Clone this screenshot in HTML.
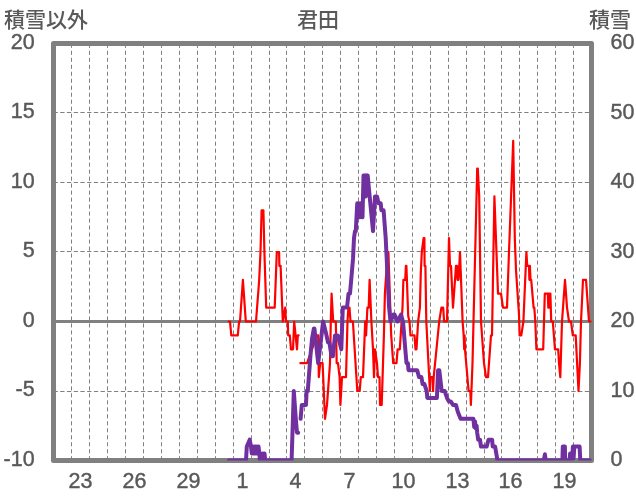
<!DOCTYPE html>
<html><head><meta charset="utf-8"><title>君田</title>
<style>html,body{margin:0;padding:0;background:#fff;overflow:hidden}svg{display:block;will-change:transform}</style>
</head><body>
<svg width="636" height="501" viewBox="0 0 636 501">
<path d="M71.5 460.3V46 M89.5 460.3V46 M107.5 460.3V46 M125.5 460.3V46 M143.5 460.3V46 M161.5 460.3V46 M179.5 460.3V46 M197.5 460.3V46 M215.5 460.3V46 M233.5 460.3V46 M251.5 460.3V46 M269.5 460.3V46 M286.5 460.3V46 M304.5 460.3V46 M322.5 460.3V46 M340.5 460.3V46 M358.5 460.3V46 M376.5 460.3V46 M394.5 460.3V46 M412.5 460.3V46 M430.5 460.3V46 M448.5 460.3V46 M466.5 460.3V46 M484.5 460.3V46 M501.5 460.3V46 M519.5 460.3V46 M537.5 460.3V46 M555.5 460.3V46 M573.5 460.3V46" stroke="#808080" stroke-width="1" stroke-dasharray="4.1 2.89" fill="none"/>
<path d="M53.5 112.5H589 M53.5 182.5H589 M53.5 251.5H589 M53.5 391.5H589" stroke="#808080" stroke-width="1" stroke-dasharray="4.3 2.425" fill="none"/>
<path d="M53.5 321.5H591.5" stroke="#808080" stroke-width="3" fill="none"/>
<rect x="53.5" y="43.5" width="538.00" height="417.00" fill="none" stroke="#808080" stroke-width="5" stroke-linejoin="round"/>
<defs><clipPath id="pa"><rect x="53.5" y="43.5" width="538.00" height="417.00"/></clipPath></defs>
<g clip-path="url(#pa)" fill="none" stroke-linejoin="round" stroke-linecap="round">
<path d="M228.70 321.50 L230.00 321.50 L231.30 335.40 L237.80 335.40 L239.10 321.50 L240.00 321.50 L242.90 279.80 L245.80 321.50 L256.00 321.50 L259.20 279.80 L260.50 252.00 L261.60 210.30 L263.40 210.30 L264.40 252.00 L266.20 307.60 L274.70 307.60 L276.80 252.00 L279.10 252.00 L279.40 265.90 L280.60 265.90 L282.80 321.50 L285.20 307.60 L286.00 321.50 L287.80 321.50 L288.20 335.40 L289.80 335.40 L291.00 349.30 L293.00 349.30 L294.20 321.50 L297.00 349.30 L297.80 335.40 L298.60 335.40 M300.40 363.20 L307.00 363.20 L312.00 349.30 L316.50 335.40 L318.20 335.40 L318.80 377.10 L320.20 363.20 L322.60 363.20 L325.00 418.80 L327.00 404.90 L330.00 363.20 L330.80 321.50 L331.60 293.70 L333.20 321.50 L334.60 321.50 L335.80 321.50 L336.70 363.20 L338.00 363.20 L339.60 377.10 L340.40 404.90 L342.00 377.10 L346.00 377.10 L347.50 321.50 L348.40 307.60 L349.50 307.60 L350.50 321.50 L352.90 321.50 L357.30 391.00 L359.70 391.00 L360.80 377.10 L363.00 377.10 L365.20 321.50 L366.10 335.40 L367.40 307.60 L368.70 307.60 L369.60 279.80 L371.40 321.50 L373.00 349.30 L374.00 377.10 L375.00 349.30 L377.00 363.20 L378.00 377.10 L379.50 377.10 L380.00 404.90 L381.70 404.90 L383.90 335.40 L384.90 293.70 L387.60 252.00 L388.40 252.00 L391.20 335.40 L393.20 363.20 L396.50 363.20 L397.60 349.30 L399.80 349.30 L402.50 307.60 L403.40 279.80 L405.20 279.80 L405.90 265.90 L406.40 265.90 L408.20 315.94 L409.50 321.50 L410.50 335.40 L414.50 335.40 L415.50 349.30 L416.50 349.30 L418.10 321.50 L419.90 307.60 L420.80 272.85 L421.80 252.00 L423.60 238.10 L424.40 238.10 L424.60 265.90 L425.40 265.90 L426.30 321.50 L429.90 391.00 L430.40 377.10 L432.60 377.10 L433.10 391.00 L433.70 377.10 L439.20 321.50 L441.40 307.60 L443.20 307.60 L444.10 321.50 L447.00 321.50 L449.00 238.10 L450.00 265.90 L451.00 265.90 L453.00 307.60 L455.00 279.80 L456.00 265.90 L457.00 265.90 L457.50 279.80 L458.50 279.80 L460.00 252.00 L462.60 321.50 L463.70 335.40 L464.20 349.30 L464.60 335.40 L465.00 349.30 L468.60 391.00 L470.30 391.00 L470.90 404.90 L472.50 363.20 L477.20 168.60 L477.80 168.60 L479.20 196.40 L481.00 321.50 L484.00 363.20 L486.00 377.10 L488.00 377.10 L491.00 335.40 L492.00 335.40 L494.40 196.40 L498.00 293.70 L501.00 293.70 L503.00 307.60 L507.00 307.60 L509.00 252.00 L513.20 140.80 L514.80 238.10 L516.00 270.07 L519.00 314.55 L519.60 335.40 L521.30 335.40 L523.40 321.50 L526.40 252.00 L527.20 265.90 L529.00 265.90 L529.40 279.80 L529.90 265.90 L530.50 279.80 L531.20 279.80 L533.60 307.60 L534.30 307.60 L535.30 321.50 L536.40 349.30 L543.20 349.30 L544.80 293.70 L547.80 293.70 L548.30 307.60 L548.80 293.70 L549.30 307.60 L549.80 293.70 L550.40 293.70 L551.20 321.50 L552.80 321.50 L555.00 349.30 L558.20 349.30 L559.00 363.20 L560.30 377.10 L562.00 321.50 L563.00 307.60 L565.00 279.80 L566.00 293.70 L567.00 307.60 L569.00 321.50 L571.00 321.50 L572.80 335.40 L575.70 335.40 L577.10 363.20 L578.50 391.00 L579.90 363.20 L581.00 321.50 L583.00 279.80 L586.00 279.80 L587.00 293.70 L588.00 307.60 L589.00 321.50 L592.00 321.50" stroke="#ff0000" stroke-width="2.2"/>
<path d="M228.90 460.50 L246.00 460.50 L246.80 446.60 L249.70 439.65 L251.00 446.60 L251.75 453.55 L252.50 446.60 L253.25 453.55 L254.00 446.60 L254.75 453.55 L255.50 446.60 L256.25 453.55 L257.00 446.60 L257.75 453.55 L258.50 446.60 L259.30 453.55 L260.00 460.50 L260.75 453.55 L261.50 460.50 L262.25 453.55 L263.00 460.50 L263.75 453.55 L264.50 453.55 L265.20 460.50 L291.60 460.50 L293.80 391.00 L295.80 418.80 L297.00 432.70 L298.20 432.70 M300.60 418.80 L301.80 404.90 L303.60 404.90 L306.00 404.90 L306.60 391.00 L307.80 391.00 L310.40 356.25 L312.00 338.88 L313.90 328.45 L314.40 328.45 L318.20 363.20 L323.10 321.50 L325.90 332.62 L328.00 342.35 L329.40 342.35 L331.50 356.25 L332.90 356.25 L335.00 335.40 L337.80 335.40 L341.30 349.30 L342.80 307.60 L347.00 307.60 L348.50 293.70 L350.00 293.70 L351.50 276.32 L353.00 258.95 L354.00 238.10 L355.00 231.15 L355.80 231.15 L356.50 217.25 L357.25 203.35 L358.00 217.25 L358.75 203.35 L359.50 217.25 L360.25 203.35 L361.00 217.25 L361.75 203.35 L362.50 217.25 L363.50 175.55 L364.20 196.40 L365.00 175.55 L365.70 196.40 L366.40 175.55 L367.10 189.45 L367.70 175.55 L369.00 189.45 L373.00 231.15 L375.00 196.40 L377.00 196.40 L378.60 203.35 L380.70 203.35 L381.40 210.30 L383.60 210.30 L385.70 238.10 L389.10 307.60 L390.50 321.50 L393.50 314.55 L394.50 314.55 L397.50 321.50 L401.00 314.55 L403.00 321.50 L405.30 349.30 L406.50 363.20 L407.90 363.20 L408.50 370.15 L417.20 370.15 L419.00 377.10 L421.40 377.10 L422.60 384.05 L424.40 384.05 L426.70 391.00 L427.30 397.95 L436.90 397.95 L438.10 370.15 L439.30 370.15 L441.70 391.00 L444.70 391.00 L447.00 397.95 L448.90 401.43 L450.70 401.43 L453.00 404.90 L456.00 404.90 L457.80 411.85 L460.60 418.80 L473.40 418.80 L474.20 427.14 L475.00 421.58 L475.80 428.53 L476.60 425.75 L477.20 432.70 L478.20 439.65 L480.00 439.65 L481.00 446.60 L486.70 446.60 L488.50 439.65 L492.10 439.65 L492.70 446.60 L495.10 446.60 L496.30 453.55 L497.50 460.50 L543.80 460.50 L544.90 454.25 L545.80 460.50 L562.40 460.50 L562.80 446.60 L564.90 446.60 L565.10 460.50 L569.60 460.50 L570.10 453.55 L570.80 460.50 L571.50 453.55 L572.20 459.11 L572.90 446.60 L573.60 458.42 L574.30 446.60 L579.60 446.60 L580.30 460.50 L592.00 460.50" stroke="#7030a0" stroke-width="4"/>
</g>
<g font-family='"Liberation Sans", "Noto Sans CJK JP", sans-serif' font-size="100" fill="#595959" stroke="#595959" stroke-width="2"><text transform="translate(34.6 48.5) scale(0.2148 0.2170)" text-anchor="end">20</text><text transform="translate(34.6 118.0) scale(0.2148 0.2170)" text-anchor="end">15</text><text transform="translate(34.6 187.5) scale(0.2148 0.2170)" text-anchor="end">10</text><text transform="translate(34.6 257.0) scale(0.2148 0.2170)" text-anchor="end">5</text><text transform="translate(34.6 326.5) scale(0.2148 0.2170)" text-anchor="end">0</text><text transform="translate(34.6 396.0) scale(0.2148 0.2170)" text-anchor="end">-5</text><text transform="translate(34.6 465.5) scale(0.2148 0.2170)" text-anchor="end">-10</text><text transform="translate(610.6 49.0) scale(0.2148 0.2170)">60</text><text transform="translate(610.6 118.5) scale(0.2148 0.2170)">50</text><text transform="translate(610.6 188.0) scale(0.2148 0.2170)">40</text><text transform="translate(610.6 257.5) scale(0.2148 0.2170)">30</text><text transform="translate(610.6 327.0) scale(0.2148 0.2170)">20</text><text transform="translate(610.6 396.5) scale(0.2148 0.2170)">10</text><text transform="translate(610.6 466.0) scale(0.2148 0.2170)">0</text><text transform="translate(80.50 488.2) scale(0.2148 0.2170)" text-anchor="middle">23</text><text transform="translate(134.50 488.2) scale(0.2148 0.2170)" text-anchor="middle">26</text><text transform="translate(188.50 488.2) scale(0.2148 0.2170)" text-anchor="middle">29</text><text transform="translate(242.50 488.2) scale(0.2148 0.2170)" text-anchor="middle">1</text><text transform="translate(295.50 488.2) scale(0.2148 0.2170)" text-anchor="middle">4</text><text transform="translate(349.50 488.2) scale(0.2148 0.2170)" text-anchor="middle">7</text><text transform="translate(403.50 488.2) scale(0.2148 0.2170)" text-anchor="middle">10</text><text transform="translate(457.50 488.2) scale(0.2148 0.2170)" text-anchor="middle">13</text><text transform="translate(510.50 488.2) scale(0.2148 0.2170)" text-anchor="middle">16</text><text transform="translate(564.50 488.2) scale(0.2148 0.2170)" text-anchor="middle">19</text></g>
<g font-family='"Liberation Sans", "Noto Sans CJK JP", sans-serif' font-size="21" font-weight="500" fill="#595959"><text x="4" y="26.8">積雪以外</text><text x="297" y="26.6">君田</text><text x="589" y="26.5">積雪</text></g>
</svg>
</body></html>
